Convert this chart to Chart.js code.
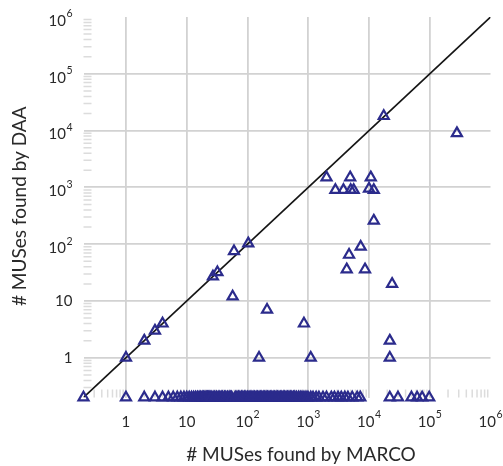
<!DOCTYPE html>
<html>
<head>
<meta charset="utf-8">
<title>MUSes: MARCO vs DAA</title>
<script src="https://cdn.jsdelivr.net/npm/chart.js@4.4.1/dist/chart.umd.min.js"></script>
<style>
  html, body { margin: 0; padding: 0; background: #fff; }
  #wrap { width: 503px; height: 466px; }
</style>
</head>
<body>
<div id="wrap"><canvas id="musChart"></canvas></div>
<script>
// Instances where DAA found at least one MUS: MARCO count / DAA count
const marcoMuses = [1, 2, 3, 4, 27, 32, 60, 103, 57, 210, 850, 155, 1100, 22000, 22000, 24000,
  17500, 280000, 2000, 4900, 10700, 2800, 3800, 5000, 5600, 10000, 12000, 12000, 7300, 4700, 4300, 8600];
const daaMuses = [1, 2, 3, 4, 27, 32, 75, 103, 12, 7, 4, 1, 1, 2, 1, 20,
  18000, 9000, 1500, 1500, 1500, 900, 900, 900, 900, 950, 900, 260, 90, 65, 36, 36];

// Instances where DAA found none (plotted on the floor row)
const marcoOnlyMuses = [0, 1, 2, 3, 4, 5, 6, 7, 8, 9, 10, 11, 12, 13, 14, 15, 16, 17, 18, 19, 20,
  21, 22, 23, 24, 25, 26, 28, 29, 31, 33, 35, 37, 39, 42, 44, 47, 50, 53, 55, 63, 67, 71, 75,
  80, 84, 89, 94, 100, 106, 111, 118, 124, 131, 139, 146, 155, 163, 172, 182, 192, 203, 214,
  226, 238, 251, 265, 280, 296, 312, 330, 348, 367, 388, 409, 432, 456, 481, 508, 536, 570,
  600, 640, 690, 740, 790, 850, 920, 990, 1100, 1200, 1350, 1500, 1750, 2000, 2400, 2700,
  3100, 3500, 4000, 4500, 5300, 6400, 7200, 22000, 30000, 50000, 62000, 75000, 98000];

// zero counts sit on the axis floor
const FLOOR = 0.2;
const AXIS_MAX = 1e6;

const tickValues = [1, 10, 100, 1e3, 1e4, 1e5, 1e6];
const tickLabels = ['1', '10', '10^2', '10^3', '10^4', '10^5', '10^6'];

const MARK = '#2b2b8c';
const GRID = '#d2d2d2';
const MINOR = '#dcdcdc';
const FONT = 'Lato, "Open Sans", sans-serif';

const toPoint = (x, y) => ({ x: x || FLOOR, y: y || FLOOR });

const points = marcoMuses.map((m, i) => toPoint(m, daaMuses[i]))
  .concat(marcoOnlyMuses.map(m => toPoint(m, 0)));

function drawLabel(ctx, text, x, y, align) {
  const [base, sup] = text.split('^');
  ctx.font = `15px ${FONT}`;
  const wb = ctx.measureText(base).width;
  ctx.font = `10.5px ${FONT}`;
  const ws = sup ? ctx.measureText(sup).width + 0.5 : 0;
  const total = wb + ws;
  const left = align === 'right' ? x - total : x - total / 2;
  const dy = (sup && align === 'right') ? 4 : 0;
  ctx.textAlign = 'left';
  ctx.textBaseline = 'middle';
  ctx.font = `15px ${FONT}`;
  ctx.fillText(base, left, y + dy);
  if (sup) {
    ctx.font = `10.5px ${FONT}`;
    ctx.fillText(sup, left + wb + 0.5, y + dy - 7);
  }
}

const axisDecor = {
  id: 'axisDecor',
  beforeDatasetsDraw(chart) {
    const { ctx, chartArea: area, scales: { x, y } } = chart;
    ctx.save();
    ctx.strokeStyle = MINOR;
    ctx.lineWidth = 1.5;
    for (let e = -1; e < 6; e++) {
      for (let m = 2; m < 10; m++) {
        const v = m * Math.pow(10, e);
        if (v <= FLOOR || v >= AXIS_MAX) continue;
        const px = x.getPixelForValue(v);
        const py = y.getPixelForValue(v);
        ctx.beginPath();
        ctx.moveTo(px, area.bottom);
        ctx.lineTo(px, area.bottom - 8);
        ctx.moveTo(area.left, py);
        ctx.lineTo(area.left + 8, py);
        ctx.stroke();
      }
    }
    ctx.restore();
  },
  afterDraw(chart) {
    const { ctx, chartArea: area, scales: { x, y } } = chart;
    ctx.save();
    ctx.fillStyle = '#2a2a2a';
    tickValues.forEach((v, i) => {
      drawLabel(ctx, tickLabels[i], x.getPixelForValue(v), area.bottom + 24.5, 'center');
      drawLabel(ctx, tickLabels[i], area.left - 11, y.getPixelForValue(v), 'right');
    });
    ctx.font = `19px ${FONT}`;
    ctx.textAlign = 'center';
    ctx.textBaseline = 'middle';
    ctx.fillText('# MUSes found by MARCO', (area.left + area.right) / 2 + 14, area.bottom + 57);
    ctx.translate(20, (area.top + area.bottom) / 2 - 1);
    ctx.rotate(-Math.PI / 2);
    ctx.fillText('# MUSes found by DAA', 0, 0);
    ctx.restore();
  }
};

function logAxis() {
  return {
    type: 'logarithmic',
    min: FLOOR,
    max: AXIS_MAX,
    afterBuildTicks: scale => {
      scale.ticks = tickValues.filter(v => v < AXIS_MAX).map(v => ({ value: v }));
    },
    grid: { color: GRID, lineWidth: 1.8, drawTicks: false, tickLength: 0 },
    border: { display: false },
    ticks: { display: false }
  };
}

new Chart(document.getElementById('musChart'), {
  type: 'scatter',
  data: {
    datasets: [{
      type: 'line',
      data: [{ x: FLOOR, y: FLOOR }, { x: AXIS_MAX, y: AXIS_MAX }],
      borderColor: '#151515',
      borderWidth: 1.6,
      pointRadius: 0,
      order: 2
    }, {
      data: points,
      pointStyle: 'triangle',
      pointRadius: 5.8,
      borderWidth: 2.2,
      borderColor: MARK,
      backgroundColor: 'rgba(0,0,0,0)',
      clip: false,
      order: 1
    }]
  },
  options: {
    responsive: true,
    maintainAspectRatio: false,
    animation: false,
    layout: { padding: { left: 83.5, right: 12.5, top: 17, bottom: 68.5 } },
    scales: { x: logAxis(), y: logAxis() },
    plugins: { legend: { display: false }, tooltip: { enabled: false } }
  },
  plugins: [axisDecor]
});
</script>
</body>
</html>
